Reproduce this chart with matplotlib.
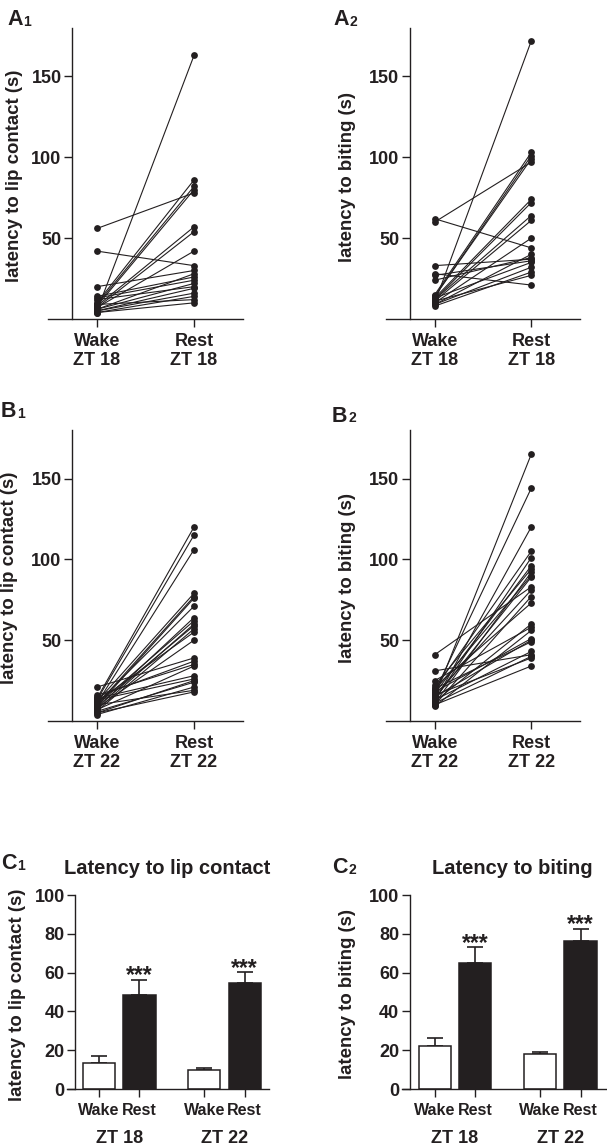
import matplotlib
matplotlib.use("Agg")
import matplotlib.pyplot as plt
import matplotlib.transforms as mtransforms

plt.rcParams['font.family'] = ['Liberation Sans', 'DejaVu Sans']
plt.rcParams['font.weight'] = 'bold'

INK = '#231f20'

# ---------------- data ----------------
conditions = ['Wake', 'Rest']

wake_A1 = [56, 42, 20, 14, 13, 12, 10, 9, 8, 8, 7, 7, 6, 6, 5, 5, 5, 4, 4, 9]
rest_A1 = [78, 33, 30, 26, 24, 20, 86, 82, 80, 57, 54, 42, 28, 22, 163, 19, 16, 14, 10, 12]

wake_A2 = [62, 60, 33, 28, 27, 24, 15, 14, 14, 13, 12, 12, 11, 10, 10, 9, 9, 8, 11, 13]
rest_A2 = [44, 97, 37, 21, 36, 38, 103, 101, 99, 74, 72, 64, 61, 50, 172, 40, 32, 29, 27, 35]

wake_B1 = [14, 13, 11, 12, 10, 9, 11, 8, 10, 7, 9, 6, 12, 8, 21, 15, 16, 7, 14, 13, 5, 6, 4, 10, 5]
rest_B1 = [120, 115, 106, 79, 77, 76, 71, 64, 62, 60, 59, 57, 55, 50, 39, 37, 35, 34, 28, 26, 25, 24, 21, 19, 18]

wake_B2 = [15, 18, 12, 20, 13, 17, 22, 11, 19, 14, 41, 16, 10, 21, 12, 25, 9, 18, 15, 20, 13, 31, 11, 16, 10]
rest_B2 = [165, 144, 120, 105, 101, 96, 94, 92, 90, 89, 83, 81, 77, 73, 60, 58, 56, 51, 50, 49, 43, 41, 40, 39, 34]

bar_labels = ['Wake', 'Rest', 'Wake', 'Rest']
group_labels = ['ZT 18', 'ZT 22']
lip_mean = [13.2, 48.2, 9.9, 54.5]
lip_sem = [3.6, 8.2, 0.7, 5.7]
bite_mean = [22.3, 65.2, 17.8, 76.3]
bite_sem = [3.9, 8.0, 1.2, 6.4]
sig = ['', '***', '', '***']

# ---------------- layout helpers ----------------
W, H = 607, 1145
fig = plt.figure(figsize=(W / 100, H / 100), dpi=100)


def rect(l, r, t, b):
    return [l / W, 1 - b / H, (r - l) / W, (b - t) / H]


def ftext(x, y, s, **kw):
    fig.text(x / W, 1 - y / H, s, **kw)


def panel_label(x, y, letter, sub):
    ftext(x, y, letter, fontsize=15.5, fontweight='bold', color=INK, va='baseline')
    ftext(x + 16.5, y + 0.5, sub, fontsize=10, fontweight='bold', color=INK, va='baseline')


FS = 13


def style_axis(ax, yspine_x, xsize=FS):
    for s in ['top', 'right']:
        ax.spines[s].set_visible(False)
    ax.spines['left'].set_position(('data', yspine_x))
    for s in ['left', 'bottom']:
        ax.spines[s].set_linewidth(1.0)
        ax.spines[s].set_color(INK)
    ax.tick_params(axis='both', direction='out', length=6, width=1.0, colors=INK)
    ax.tick_params(axis='y', pad=1.5, labelsize=FS)
    ax.tick_params(axis='x', pad=4, labelsize=xsize)
    for lab in ax.get_xticklabels() + ax.get_yticklabels():
        lab.set_fontweight('bold')


def paired(ax, wake, rest, zt):
    for w, r in zip(wake, rest):
        ax.plot([1, 2], [w, r], '-', color=INK, lw=0.8, zorder=2)
    ax.scatter([1] * len(wake), wake, s=24, color=INK, zorder=3, linewidths=0)
    ax.scatter([2] * len(rest), rest, s=24, color=INK, zorder=3, linewidths=0)
    ax.set_xlim(0.495, 2.505)
    ax.set_ylim(0, 180)
    ax.set_yticks([50, 100, 150])
    ax.set_xticks([1, 2])
    ax.set_xticklabels([f'{c}\n{zt}' for c in conditions], linespacing=1.15)
    style_axis(ax, 0.742)


def bars(ax, means, sems, yspine_x, xl, xr):
    pos = [0, 1, 2.6, 3.6]
    colors = ['white', INK, 'white', INK]
    for p, m, e, c, st in zip(pos, means, sems, colors, sig):
        ax.bar(p, m, width=0.8, color=c, edgecolor=INK, linewidth=1.1, zorder=2)
        ax.errorbar(p, m, yerr=[[0], [e]], color=INK, capsize=5.5, elinewidth=1.2,
                    capthick=1.2, zorder=1)
        if st:
            ax.text(p, m + e - 1.5, st, ha='center', va='baseline', fontsize=16.5,
                    fontweight='bold', color=INK)
    ax.set_xlim(xl, xr)
    ax.set_ylim(0, 100)
    ax.set_yticks([0, 20, 40, 60, 80, 100])
    ax.set_xticks(pos)
    ax.set_xticklabels(bar_labels)
    style_axis(ax, yspine_x, xsize=11.5)
    trans = mtransforms.blended_transform_factory(ax.transData, ax.transAxes)
    for gx, g in zip([0.5, 3.1], group_labels):
        ax.text(gx, -0.255, g, transform=trans, ha='center', va='center',
                fontsize=FS, fontweight='bold', color=INK)


# ---------------- A panels ----------------
axA1 = fig.add_axes(rect(48, 243, 28, 319))
paired(axA1, wake_A1, rest_A1, 'ZT 18')
axA2 = fig.add_axes(rect(386, 580, 28, 319))
paired(axA2, wake_A2, rest_A2, 'ZT 18')

# ---------------- B panels ----------------
axB1 = fig.add_axes(rect(48, 243, 430, 721))
paired(axB1, wake_B1, rest_B1, 'ZT 22')
axB2 = fig.add_axes(rect(386, 580, 430, 721))
paired(axB2, wake_B2, rest_B2, 'ZT 22')

# ---------------- C panels ----------------
axC1 = fig.add_axes(rect(67, 269, 895, 1089))
bars(axC1, lip_mean, lip_sem, -0.59, -0.79, 4.2)
axC2 = fig.add_axes(rect(402, 606, 895, 1089))
bars(axC2, bite_mean, bite_sem, -0.62, -0.81, 4.23)

# ---------------- labels ----------------
ylab_kw = dict(rotation=90, ha='center', va='center', fontsize=13.4, fontweight='bold', color=INK)
ftext(15, 176, 'latency to lip contact (s)', **ylab_kw)
ftext(348, 177, 'latency to biting (s)', **ylab_kw)
ftext(10, 578, 'latency to lip contact (s)', **ylab_kw)
ftext(348, 578, 'latency to biting (s)', **ylab_kw)
ftext(18, 995, 'latency to lip contact (s)', **ylab_kw)
ftext(348, 994, 'latency to biting (s)', **ylab_kw)

ftext(167, 868, 'Latency to lip contact', ha='center', va='center', fontsize=14.5,
      fontweight='bold', color=INK)
ftext(512, 868, 'Latency to biting', ha='center', va='center', fontsize=14.5,
      fontweight='bold', color=INK)

panel_label(7, 25, 'A', '1')
panel_label(333, 25, 'A', '2')
panel_label(1, 417, 'B', '1')
panel_label(332, 422, 'B', '2')
panel_label(1, 869, 'C', '1')
panel_label(332, 873, 'C', '2')

fig.savefig('out.png', dpi=100)
